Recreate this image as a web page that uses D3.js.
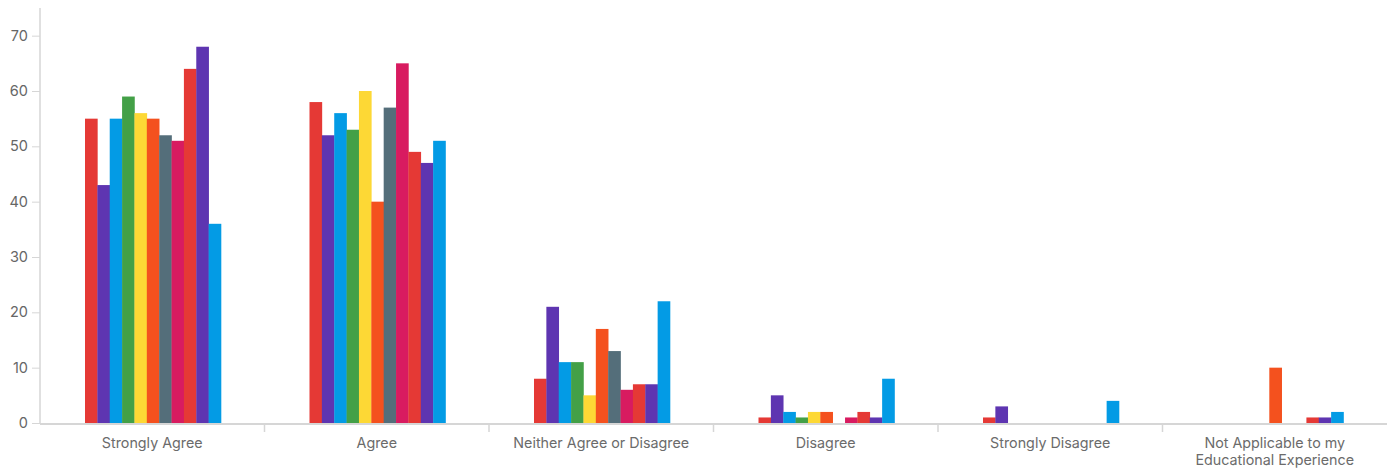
<!DOCTYPE html>
<html><head><meta charset="utf-8">
<script src="https://cdn.jsdelivr.net/npm/d3@7"></script>
<style>body{margin:0;background:#fff;}svg{display:block;font-family:Inter,sans-serif;}</style>
</head><body>
<svg id="c" width="1396" height="475"></svg>
<script>
const categories = ["Strongly Agree","Agree","Neither Agree or Disagree","Disagree","Strongly Disagree","Not Applicable to my Educational Experience"];
const seriesNames = ["S1","S2","S3","S4","S5","S6","S7","S8","S9","S10","S11"];
const seriesColors = ["#E53935","#5E35B1","#039BE5","#43A047","#FDD835","#F4511E","#546E7A","#D81B60","#E53935","#5E35B1","#039BE5"];
const values = [
  [55,43,55,59,56,55,52,51,64,68,36],
  [58,52,56,53,60,40,57,65,49,47,51],
  [8,21,11,11,5,17,13,6,7,7,22],
  [1,5,2,1,2,2,0,1,2,1,8],
  [1,3,0,0,0,0,0,0,0,0,4],
  [0,0,0,0,0,10,0,0,1,1,2]
];
const yTicks = [0,10,20,30,40,50,60,70];

(function(){
const svg = d3.select("#c");
const mLeft = 40, mRight = 1387, mTop = 8, mBottom = 423;
const x0 = d3.scaleBand().domain(categories).range([mLeft,mRight]).paddingInner(0).paddingOuter(0);
const x1 = d3.scaleBand().domain(seriesNames).range([45, 45 + 136]).padding(0);
const y = d3.scaleLinear().domain([0,75]).range([mBottom, mTop]);

const g = svg.append("g");
categories.forEach((c,ci)=>{
  const gg = g.append("g").attr("transform",`translate(${x0(c)},0)`);
  gg.selectAll("rect").data(values[ci]).join("rect")
    .attr("x",(d,i)=>x1(seriesNames[i]))
    .attr("width",x1.bandwidth()+0.3)
    .attr("y",d=>y(d))
    .attr("height",d=>mBottom - y(d))
    .attr("fill",(d,i)=>seriesColors[i]);
});

const ya = svg.append("g").attr("transform",`translate(${mLeft},0)`)
  .call(d3.axisLeft(y).tickValues(yTicks).tickSize(8).tickPadding(4));
ya.select(".domain").remove();
ya.selectAll(".tick line").attr("stroke","#d6d6d6");
ya.selectAll(".tick text").attr("fill","#666").attr("font-size",14.5).attr("font-family","Inter, sans-serif");
svg.append("line").attr("x1",mLeft).attr("x2",mLeft).attr("y1",mTop).attr("y2",mBottom+1).attr("stroke","#d6d6d6").attr("stroke-width",1.5);

svg.append("line").attr("x1",mLeft).attr("x2",mRight).attr("y1",mBottom+1).attr("y2",mBottom+1).attr("stroke","#d6d6d6").attr("stroke-width",2);
const seps = categories.slice(1).map(c=>x0(c));
svg.selectAll("line.sep").data(seps).join("line").attr("class","sep")
  .attr("x1",d=>d).attr("x2",d=>d).attr("y1",mBottom+1).attr("y2",mBottom+9)
  .attr("stroke","#d6d6d6").attr("stroke-width",1.5);

const labels = svg.append("g");
categories.forEach(c=>{
  const cx = x0(c) + x0.bandwidth()/2;
  const t = labels.append("text").attr("x",cx).attr("text-anchor","middle")
    .attr("fill","#6b6b6b").attr("font-size",14.3).attr("font-family","Inter, sans-serif");
  if (c.length > 30) {
    t.append("tspan").attr("x",cx).attr("y",448).text("Not Applicable to my");
    t.append("tspan").attr("x",cx).attr("y",465).text("Educational Experience");
  } else {
    t.attr("y",448).text(c);
  }
});
})();
</script>
</body></html>
